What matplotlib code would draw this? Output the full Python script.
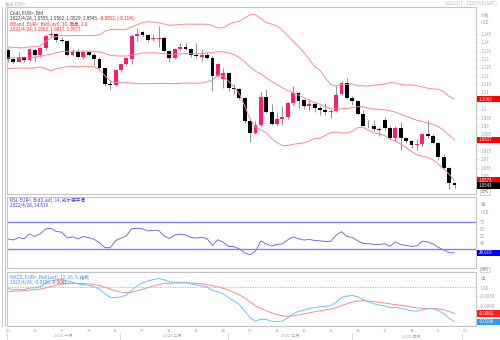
import numpy as np
import pandas as pd
import matplotlib
matplotlib.use("Agg")
import matplotlib.pyplot as plt
import matplotlib.transforms as mtrans
from matplotlib.lines import Line2D
from matplotlib.patches import Rectangle
from matplotlib.text import Annotation

plt.rcParams['font.family'] = ['Noto Sans CJK SC', 'DejaVu Sans']

# 2021 年 11-12 月收盘价, 只用来让指标预热
prior_close = [1.1608, 1.1580, 1.1610, 1.1555, 1.1567, 1.1588, 1.1592, 1.1478, 1.1446, 1.1445,
               1.1368, 1.1320, 1.1319, 1.1370, 1.1288, 1.1236, 1.1235, 1.1199, 1.1210, 1.1318,
               1.1293, 1.1338,
               1.1320, 1.1302, 1.1316, 1.1285, 1.1266, 1.1342, 1.1293, 1.1316, 1.1284, 1.1258,
               1.1290, 1.1330, 1.1238, 1.1281, 1.1282, 1.1331, 1.1327, 1.1321, 1.1328, 1.1310,
               1.1349, 1.1325, 1.1370]

# EUR= 日线 2022/1/3 - 2022/4/28
opens = [1.1355, 1.1298, 1.1285, 1.1312, 1.1295, 1.1355, 1.1325, 1.1365, 1.1442, 1.1452,
         1.1412, 1.1406, 1.1322, 1.1342, 1.1312, 1.1342, 1.1326, 1.1302, 1.1244, 1.1150,
         1.1146, 1.1234, 1.1270, 1.1302, 1.1437, 1.1462, 1.1442, 1.1418, 1.1422, 1.1424,
         1.1348, 1.1306, 1.1358, 1.1372, 1.1362, 1.1324, 1.1314, 1.1326, 1.1308, 1.1196,
         1.1178, 1.1218, 1.1128, 1.1120, 1.1064, 1.0928, 1.0855, 1.0903, 1.1075, 1.0985,
         1.0912, 1.0942, 1.0955, 1.1034, 1.1094, 1.1052, 1.1016, 1.1030, 1.1004, 1.0996,
         1.0982, 1.0986, 1.1090, 1.1158, 1.1067, 1.1047, 1.0972, 1.0902, 1.0898, 1.0880,
         1.0935, 1.0888, 1.0828, 1.0890, 1.0826, 1.0808, 1.0784, 1.0790, 1.0852, 1.0838,
         1.0796, 1.0714, 1.0646, 1.0555]
highs = [1.1366, 1.1308, 1.1340, 1.1318, 1.1365, 1.1360, 1.1370, 1.1450, 1.1482, 1.1458,
         1.1430, 1.1412, 1.1362, 1.1364, 1.1348, 1.1350, 1.1334, 1.1310, 1.1248, 1.1175,
         1.1238, 1.1273, 1.1310, 1.1450, 1.1483, 1.1470, 1.1448, 1.1448, 1.1495, 1.1436,
         1.1352, 1.1365, 1.1395, 1.1395, 1.1368, 1.1394, 1.1360, 1.1345, 1.1320, 1.1274,
         1.1245, 1.1225, 1.1150, 1.1124, 1.1072, 1.0946, 1.0930, 1.1100, 1.1120, 1.1030,
         1.0980, 1.1020, 1.1045, 1.1138, 1.1102, 1.1060, 1.1058, 1.1045, 1.1020, 1.1037,
         1.1000, 1.1138, 1.1170, 1.1186, 1.1076, 1.1053, 1.0992, 1.0938, 1.0938, 1.0895,
         1.0955, 1.0898, 1.0900, 1.0925, 1.0834, 1.0815, 1.0820, 1.0860, 1.0936, 1.0852,
         1.0805, 1.0730, 1.0656, 1.0562]
lows = [1.1280, 1.1274, 1.1280, 1.1285, 1.1288, 1.1285, 1.1312, 1.1356, 1.1432, 1.1400,
        1.1395, 1.1320, 1.1316, 1.1306, 1.1302, 1.1318, 1.1262, 1.1236, 1.1138, 1.1122,
        1.1140, 1.1225, 1.1265, 1.1268, 1.1410, 1.1430, 1.1400, 1.1410, 1.1375, 1.1340,
        1.1280, 1.1300, 1.1350, 1.1355, 1.1315, 1.1305, 1.1290, 1.1300, 1.1106, 1.1190,
        1.1125, 1.1108, 1.1092, 1.1060, 1.0920, 1.0806, 1.0850, 1.0900, 1.0975, 1.0905,
        1.0900, 1.0905, 1.0940, 1.1022, 1.1006, 1.1002, 1.0986, 1.0980, 1.0962, 1.0966,
        1.0945, 1.0982, 1.1085, 1.1063, 1.1026, 1.0966, 1.0900, 1.0887, 1.0870, 1.0837,
        1.0874, 1.0822, 1.0808, 1.0757, 1.0800, 1.0768, 1.0758, 1.0782, 1.0828, 1.0790,
        1.0698, 1.0640, 1.0520, 1.0529]
closes = [1.1298, 1.1285, 1.1314, 1.1295, 1.1358, 1.1326, 1.1364, 1.1440, 1.1452, 1.1414,
          1.1406, 1.1326, 1.1342, 1.1310, 1.1342, 1.1326, 1.1302, 1.1248, 1.1150, 1.1146,
          1.1234, 1.1268, 1.1304, 1.1440, 1.1450, 1.1442, 1.1414, 1.1424, 1.1424, 1.1348,
          1.1306, 1.1358, 1.1372, 1.1362, 1.1324, 1.1318, 1.1326, 1.1308, 1.1196, 1.1268,
          1.1218, 1.1128, 1.1122, 1.1064, 1.0928, 1.0855, 1.0903, 1.1075, 1.0985, 1.0912,
          1.0942, 1.0955, 1.1034, 1.1094, 1.1050, 1.1016, 1.1030, 1.1004, 1.0996, 1.0982,
          1.0986, 1.1087, 1.1158, 1.1067, 1.1047, 1.0972, 1.0902, 1.0898, 1.0880, 1.0876,
          1.0888, 1.0828, 1.0890, 1.0826, 1.0808, 1.0784, 1.0790, 1.0852, 1.0838, 1.0796,
          1.0714, 1.0646, 1.0555, 1.0543]

dates = pd.bdate_range("2022-01-03", periods=len(closes))
week_labels = ["03", "10", "17", "24", "31", "07", "14", "21", "28",
               "07", "14", "21", "28", "04", "11", "18", "25", "02"]
month_labels = ["2022 一月", "2022 二月", "2022 三月", "2022 四月"]

# ---- 指标 ----
n = len(closes)
full = pd.Series(prior_close + closes)
bb_mid = full.rolling(20).mean()
bb_std = full.rolling(20).std(ddof=0)
bb_up = (bb_mid + 2 * bb_std).iloc[-n:].values
bb_lo = (bb_mid - 2 * bb_std).iloc[-n:].values
bb_mid = bb_mid.iloc[-n:].values

delta = full.diff()
gain = delta.clip(lower=0).ewm(alpha=1 / 14, adjust=False).mean()
loss = (-delta.clip(upper=0)).ewm(alpha=1 / 14, adjust=False).mean()
rsi = (100 - 100 / (1 + gain / loss)).iloc[-n:].values

macd = full.ewm(span=12, adjust=False).mean() - full.ewm(span=26, adjust=False).mean()
signal = macd.ewm(span=9, adjust=False).mean().iloc[-n:].values
macd = macd.iloc[-n:].values

# ---- 画布 ----
W, H = 500, 340
fig = plt.figure(figsize=(W / 100, H / 100), dpi=100)
fig.patch.set_facecolor("white")


def px_axes(l, t, r, b):
    return fig.add_axes([l / W, 1 - b / H, (r - l) / W, (b - t) / H])


def ftext(x, y, s, **kw):
    kw.setdefault("fontsize", 3.3)
    kw.setdefault("va", "center")
    return fig.text(x / W, 1 - y / H, s, **kw)


def after(t, s, color):
    # 接在前一段文字后面, 换个颜色
    an = Annotation(s, xy=(1, 0.5), xycoords=t, va="center", ha="left",
                    color=color, fontsize=t.get_fontsize())
    fig.add_artist(an)
    return an


ax = px_axes(7, 7, 476, 194)
ax_rsi = px_axes(7, 197, 476, 268)
ax_macd = px_axes(7, 272, 476, 326)

x = np.arange(n)
xmin, xmax = (7 - 8) / 5.38, (476 - 8) / 5.38
for a in (ax, ax_rsi, ax_macd):
    a.set_xlim(xmin, xmax)
    a.set_xticks([])
    for sp in a.spines.values():
        sp.set_color("#c4c4c4")
        sp.set_linewidth(0.8)
    a.yaxis.tick_right()
    a.tick_params(axis="y", labelsize=3.2, labelcolor="#a0a0a0", color="#c4c4c4",
                  length=1.5, width=0.5, pad=1.5)

# 蜡烛
o, h, l, c = map(np.array, (opens, highs, lows, closes))
up = c >= o
ax.vlines(x, l, h, color="#808080", lw=0.6, zorder=2)
body = np.maximum(np.abs(c - o), 0.00025)
ax.bar(x, body, bottom=np.minimum(o, c), width=0.72,
       color=np.where(up, "#ff1a75", "#000000"), zorder=3, linewidth=0)

# 布林带
for band in (bb_up, bb_mid, bb_lo):
    ax.plot(x, band, color="#f28c8c", lw=0.7, zorder=4)

ax.set_ylim(1.145 - 160 / 1670, 1.145 + 27 / 1670)
pticks = [1.145, 1.14, 1.135, 1.13, 1.125, 1.12, 1.115, 1.11, 1.1, 1.095, 1.09, 1.085,
          1.075, 1.07, 1.065, 1.06]
ax.set_yticks(pticks)
ax.set_yticklabels(["%g" % v for v in pticks])

# RSI
ax_rsi.plot(x, rsi, color="#7070e0", lw=0.7)
for lvl in (70, 30):
    ax_rsi.axhline(lvl, color="#8080ff", lw=1.0)
ax_rsi.set_ylim(30 - 18.7 / 0.675, 70 + 25.3 / 0.675)
ax_rsi.set_yticks([70, 60, 50, 40])

# MACD
ax_macd.axhline(0, color="#66c2ff", lw=0.6, ls=(0, (1.5, 1.5)))
ax_macd.plot(x, signal, color="#f28c8c", lw=0.7)
ax_macd.plot(x, macd, color="#66c2ff", lw=0.7)
ax_macd.set_ylim(-(326 - 286.5) / 3333, (286.5 - 272) / 3333)
ax_macd.set_yticks([-0.003, -0.006])
ax_macd.set_yticklabels(["-0.0030", "-0.0060"])


def side_label(a, y, s, fc, px_per_unit):
    trans = mtrans.blended_transform_factory(a.transAxes, a.transData)
    hgt = 6.2 / px_per_unit
    wid = 24 / 469
    a.add_patch(Rectangle((1.002, y - hgt / 2), wid, hgt, transform=trans,
                          fc=fc, ec="none", clip_on=False, zorder=5))
    a.text(1.006, y, s, transform=trans, color="white", fontsize=3.2,
           va="center", ha="left", clip_on=False, zorder=6)


side_label(ax, bb_up[-1], "%.4f" % bb_up[-1], "#ff0000", 1670)
side_label(ax, bb_mid[-1], "%.4f" % bb_mid[-1], "#ff0000", 1670)
side_label(ax, bb_lo[-1], "%.4f" % bb_lo[-1], "#ff0000", 1670)
side_label(ax, c[-1], "%.4f" % c[-1], "#000000", 1670)
side_label(ax_rsi, rsi[-1], "%.3f" % rsi[-1], "#0000ff", 0.675)
side_label(ax_macd, signal[-1], "%.4f" % signal[-1], "#ff2020", 3333)
side_label(ax_macd, macd[-1], "%.4f" % macd[-1], "#3399ff", 3333)

# 图例文字
d = f"{dates[-1].year}/{dates[-1].month}/{dates[-1].day}"
chg = c[-1] - c[-2]
ftext(10, 13, "Cndl, EUR=, Bid", color="#333333")
t = ftext(10, 18.5, f"{d}, {o[-1]:.4f}, {h[-1]:.4f}, {l[-1]:.4f}, {c[-1]:.4f}, ", color="#333333")
after(t, f"{chg:.4f}, ({chg / c[-2] * 100:.2f}%)", "#ff0000")
ftext(10, 24, "BBand, EUR=, Bid(Last), 20, 简单, 2.0", color="#ff2020")
ftext(10, 29.5, f"{d}, {bb_up[-1]:.4f}, {bb_mid[-1]:.4f}, {bb_lo[-1]:.4f}", color="#ff2020")

ftext(10, 200, "RSI, EUR=, Bid(Last), 14, 威尔德平滑", color="#3b3bd6")
ftext(10, 205.5, f"{d}, {rsi[-1]:.3f}", color="#3b3bd6")

ftext(10, 277, "MACD, EUR=, Bid(Last), 12, 26, 9, 指数", color="#3d8fe0")
t = ftext(10, 282.5, f"{d}, {macd[-1]:.4f}, ", color="#3d8fe0")
after(t, f"{signal[-1]:.4f}", "#ff2020")

# 标题栏与右侧标注
ftext(5, 3.5, "每天 EUR=", color="#b0b0b0", fontsize=3.1)
ftext(497, 3.5, "2022/1/3 - 2022/5/4 (GMT)", color="#b0b0b0", fontsize=3.1, ha="right")
ftext(481, 15, "价格", color="#a0a0a0", fontsize=3.1)
ftext(481, 22, "USD", color="#a0a0a0", fontsize=3.1)
ftext(481, 205, "值", color="#a0a0a0", fontsize=3.1)
ftext(481, 212.5, "USD", color="#a0a0a0", fontsize=3.1)
ftext(481, 279, "值", color="#a0a0a0", fontsize=3.1)
ftext(481, 289, "USD", color="#a0a0a0", fontsize=3.1)
for yy in (192, 269.5):
    ftext(480.5, yy, "自动", color="#a0a0a0", fontsize=3.0,
          bbox=dict(boxstyle="square,pad=0.2", fc="white", ec="#c4c4c4", lw=0.5))

# 左侧双竖线
for xx in (2, 5):
    fig.add_artist(Line2D([xx / W, xx / W], [1 - 326 / H, 1 - 7 / H], color="#c4c4c4", lw=0.7))

# 日期轴
bt = mtrans.blended_transform_factory(ax_macd.transData, fig.transFigure)
for i, s in enumerate(week_labels):
    fig.text(i * 5, 1 - 330.5 / H, s, transform=bt, ha="center", va="center",
             fontsize=3.0, color="#a8a8a8")
month_pos = [10.2, 30.5, 52.4, 75.0]
for xp, s in zip(month_pos, month_labels):
    fig.text(xp, 1 - 336 / H, s, transform=bt, ha="center", va="center",
             fontsize=3.0, color="#a8a8a8")
month_start = [dates.get_loc(dd) for dd in ("2022-02-01", "2022-03-01", "2022-04-01")]
for xp in [xmin] + [m - 0.1 for m in month_start] + [84.4]:
    fig.add_artist(Line2D([xp, xp], [1 - 333 / H, 1 - 339 / H], transform=bt,
                          color="#c8c8c8", lw=0.5))

fig.savefig("out.png", dpi=100)
